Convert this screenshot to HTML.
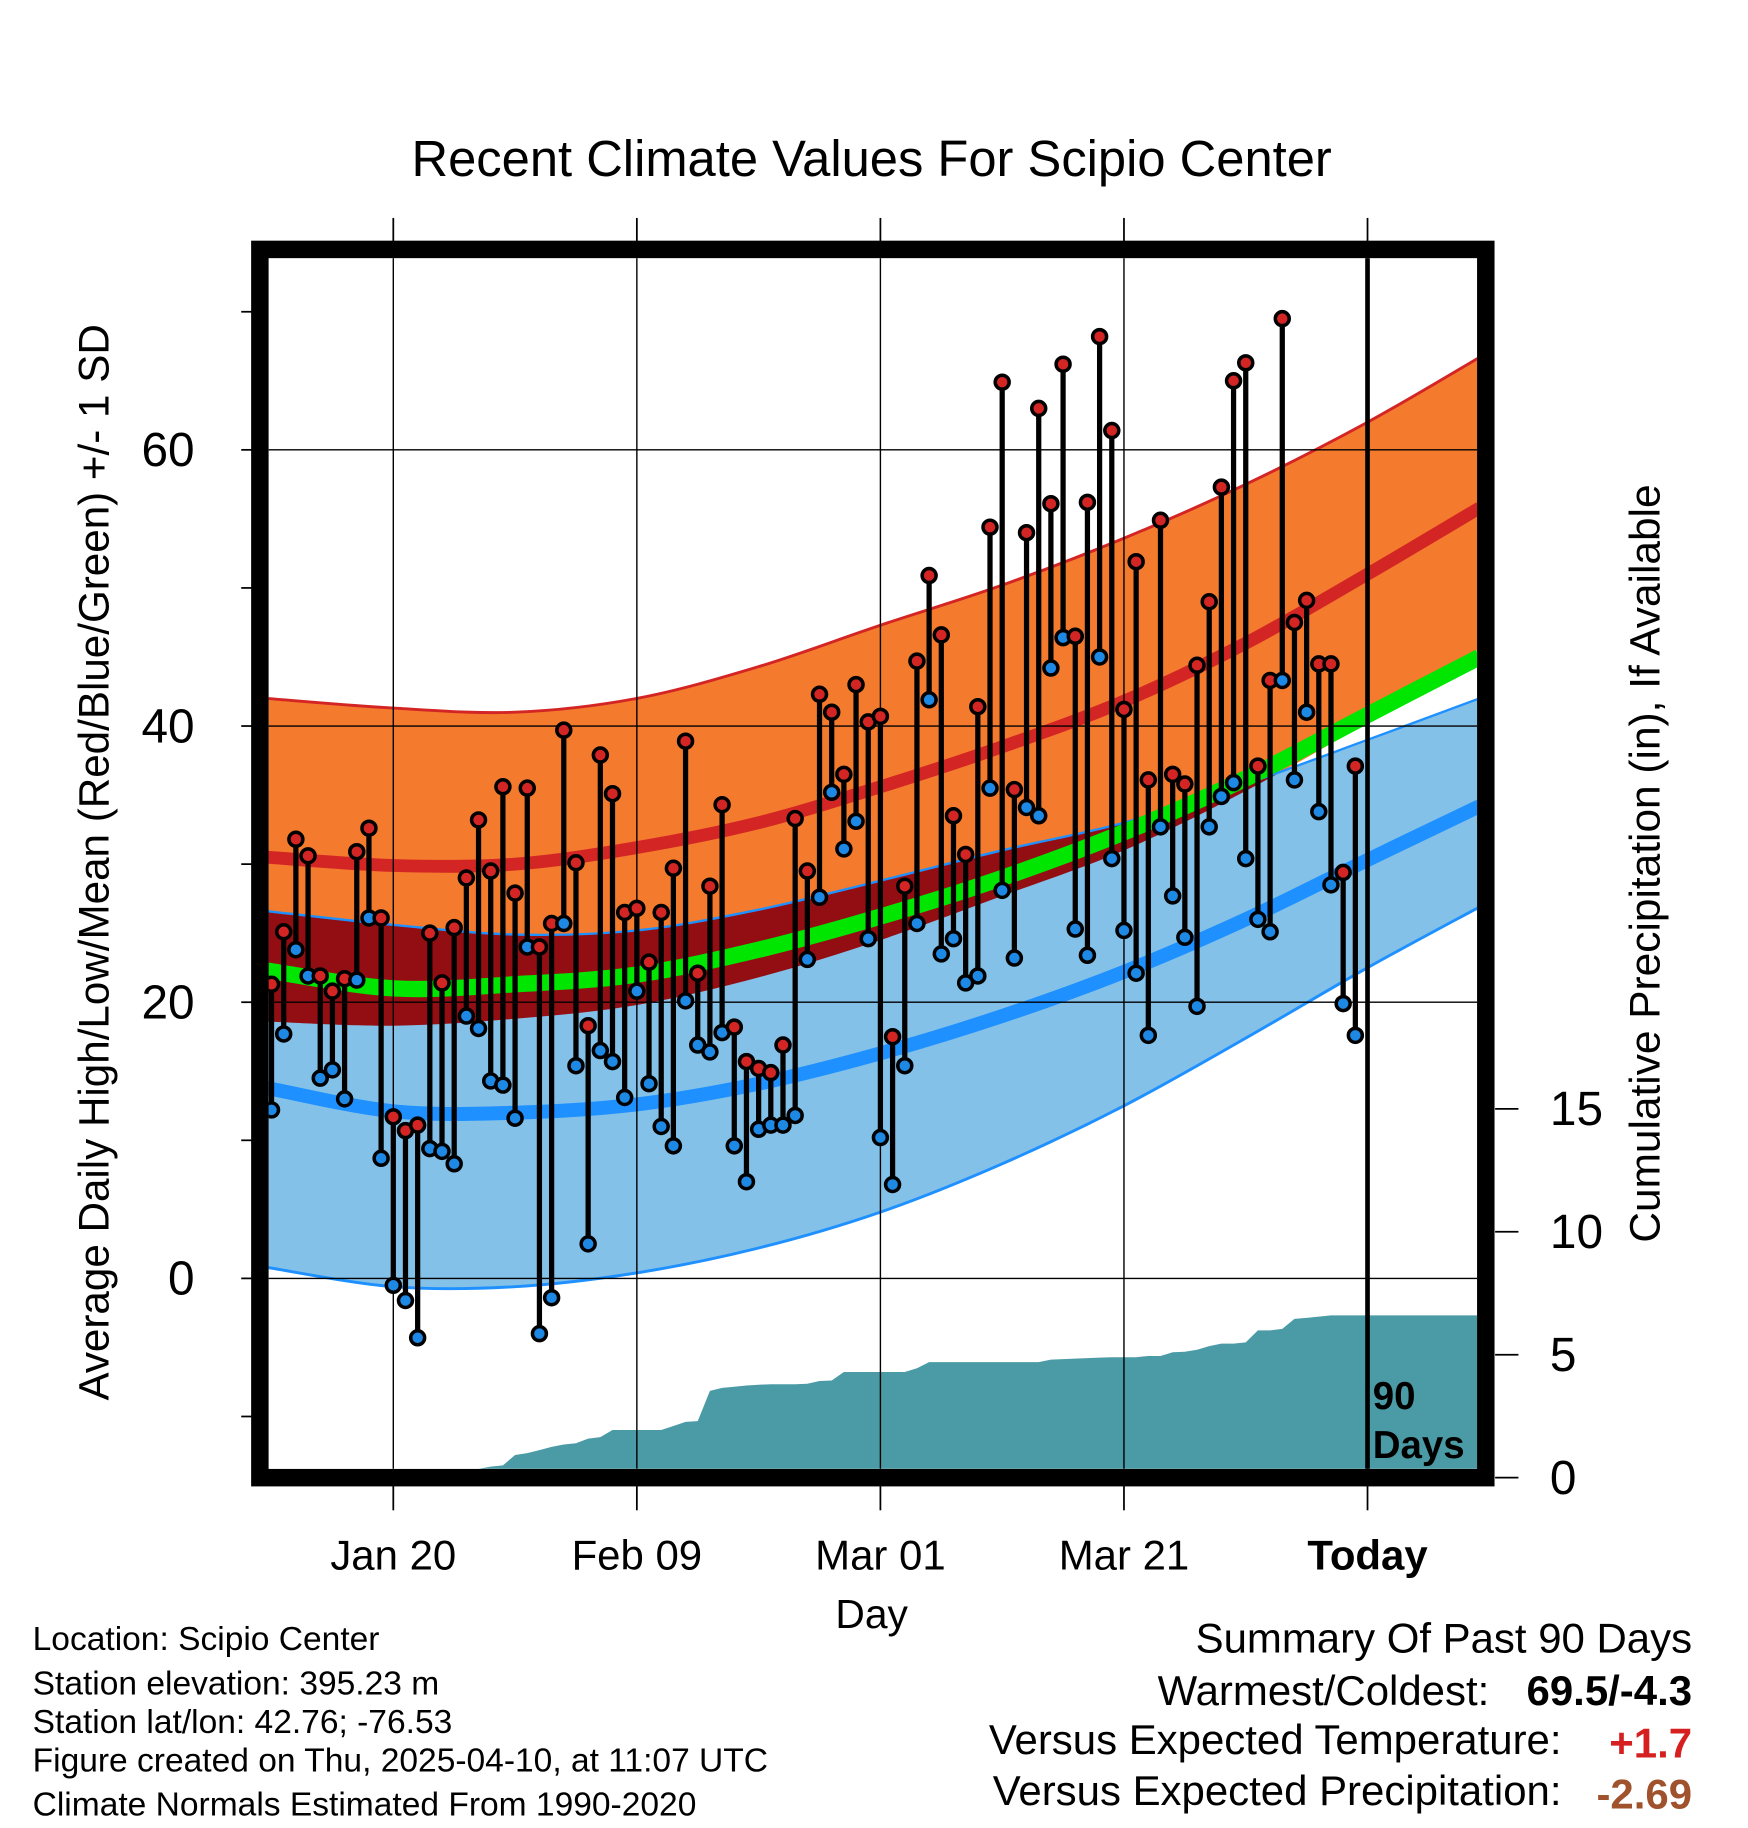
<!DOCTYPE html>
<html><head><meta charset="utf-8"><style>
html,body{margin:0;padding:0;background:#fff;}
svg{display:block;font-family:"Liberation Sans",Arial,sans-serif;}
</style></head><body>
<svg id="chart" width="1748" height="1828" viewBox="0 0 1500 1568.6" xmlns="http://www.w3.org/2000/svg">
<defs><clipPath id="plotclip"><rect x="230.5" y="221.5" width="1037" height="1039"/></clipPath></defs>
<text x="748" y="151" font-size="43.5" text-anchor="middle">Recent Climate Values For Scipio Center</text>
<g id="plot" clip-path="url(#plotclip)"></g>
<g id="axes"></g>
<rect x="223" y="214" width="1052" height="1054" fill="none" stroke="#000" stroke-width="15"/>
<text transform="translate(93,740) rotate(-90)" font-size="36.2" text-anchor="middle">Average Daily High/Low/Mean (Red/Blue/Green) +/- 1 SD</text>
<text transform="translate(1424,741) rotate(-90)" font-size="36.4" text-anchor="middle">Cumulative Precipitation (in), If Available</text>
<text x="748" y="1397" font-size="35" text-anchor="middle">Day</text>
<text x="1178" y="1209" font-size="33" font-weight="bold">90</text>
<text x="1178" y="1251" font-size="33" font-weight="bold">Days</text>
<g font-size="28.8">
<text x="28" y="1416">Location: Scipio Center</text>
<text x="28" y="1454">Station elevation: 395.23 m</text>
<text x="28" y="1487">Station lat/lon: 42.76; -76.53</text>
<text x="28" y="1520">Figure created on Thu, 2025-04-10, at 11:07 UTC</text>
<text x="28" y="1558">Climate Normals Estimated From 1990-2020</text>
</g>
<g font-size="36" text-anchor="end">
<text x="1452" y="1418">Summary Of Past 90 Days</text>
<text x="1278" y="1463">Warmest/Coldest:</text>
<text x="1452" y="1463" font-weight="bold">69.5/-4.3</text>
<text x="1340" y="1505">Versus Expected Temperature:</text>
<text x="1452" y="1508" font-weight="bold" fill="#d62020">+1.7</text>
<text x="1340" y="1549">Versus Expected Precipitation:</text>
<text x="1452" y="1552" font-weight="bold" fill="#a0522d">-2.69</text>
</g>
</svg>
<script>
const normDays = [-0.4,10,20,30,40,50,60,70,80,90,99.2];
const highUp   = [42.0,41.3,41.0,42.0,44.3,47.3,50.2,53.6,57.5,62.0,66.7];
const highMean = [30.5,29.9,30.0,31.2,33.0,35.6,38.5,41.8,46.0,51.0,55.8];
const highDown = [18.6,18.3,18.8,19.8,21.8,24.5,27.7,31.0,35.3,40.3,45.6];
const meanLine = [22.3,21.0,21.3,22.0,23.8,26.2,29.0,32.3,36.2,40.8,45.0];
const lowUp    = [26.6,25.6,24.9,25.2,26.7,28.8,31.0,33.0,35.8,39.0,42.0];
const lowMean  = [13.8,12.1,12.0,12.6,14.1,16.3,19.0,22.2,26.0,30.3,34.2];
const lowDown  = [0.8,-0.6,-0.6,0.4,2.2,4.8,8.3,12.5,17.4,22.5,26.9];
const highs = [21.3,25.1,31.8,30.6,21.9,20.8,21.7,30.9,32.6,26.1,11.7,10.7,11.1,25.0,21.4,25.4,29.0,33.2,29.5,35.6,27.9,35.5,24.0,25.7,39.7,30.1,18.3,37.9,35.1,26.5,26.8,22.9,26.5,29.7,38.9,22.1,28.4,34.3,18.2,15.7,15.2,14.9,16.9,33.3,29.5,42.3,41.0,36.5,43.0,40.3,40.7,17.5,28.4,44.7,50.9,46.6,33.5,30.7,41.4,54.4,64.9,35.4,54.0,63.0,56.1,66.2,46.5,56.2,68.2,61.4,41.2,51.9,36.1,54.9,36.5,35.8,44.4,49.0,57.3,65.0,66.3,37.1,43.3,69.5,47.5,49.1,44.5,44.5,29.4,37.1];
const lows = [12.2,17.7,23.8,21.9,14.5,15.1,13.0,21.6,26.1,8.7,-0.5,-1.6,-4.3,9.4,9.2,8.3,19.0,18.1,14.3,14.0,11.6,24.0,-4.0,-1.4,25.7,15.4,2.5,16.5,15.7,13.1,20.8,14.1,11.0,9.6,20.1,16.9,16.4,17.8,9.6,7.0,10.8,11.1,11.1,11.8,23.1,27.6,35.2,31.1,33.1,24.6,10.2,6.8,15.4,25.7,41.9,23.5,24.6,21.4,21.9,35.5,28.1,23.2,34.1,33.5,44.2,46.4,25.3,23.4,45.0,30.4,25.2,22.1,17.6,32.7,27.7,24.7,19.7,32.7,34.9,35.9,30.4,26.0,25.1,43.3,36.1,41.0,33.8,28.5,19.9,17.6];
const precip = [0,0,0,0,0,0,0,0,0,0,0,0,0,0,0,0,0,0,0.45,0.5,0.92,1.0,1.12,1.25,1.35,1.4,1.59,1.65,1.94,1.94,1.94,1.94,1.94,2.1,2.27,2.3,3.53,3.65,3.7,3.75,3.78,3.8,3.8,3.8,3.82,3.93,3.95,4.3,4.3,4.3,4.3,4.3,4.3,4.45,4.7,4.7,4.7,4.7,4.7,4.7,4.7,4.7,4.7,4.7,4.8,4.82,4.84,4.86,4.88,4.9,4.9,4.9,4.95,4.95,5.1,5.12,5.2,5.35,5.45,5.45,5.5,5.99,5.99,6.05,6.46,6.5,6.55,6.6,6.6,6.6];
const yTicks = [0,20,40,60];
const yMinor = [-10,10,30,50,70];
const pTicks = [0,5,10,15];
const xTickDays = [10,30,50,70,90];
const xTickLabels = ["Jan 20","Feb 09","Mar 01","Mar 21","Today"];

const NS="http://www.w3.org/2000/svg";
const X0=230.5,X1=1267.5,Y0=221.5,Y1=1260.5;
function xs(i){return 337.5+(i-10)*10.45;}
function ys(t){return 1097-11.85*t;}
function yp(p){return 1268-21.1*p;}
function mk(tag,attrs,parent){const e=document.createElementNS(NS,tag);for(const k in attrs)e.setAttribute(k,attrs[k]);parent.appendChild(e);return e;}
function pts(arr){return normDays.map((d,k)=>[xs(d),ys(arr[k])]);}
function smooth(p){let s="M"+p[0][0]+","+p[0][1];for(let k=0;k<p.length-1;k++){const a=p[Math.max(0,k-1)],b=p[k],c=p[k+1],d=p[Math.min(p.length-1,k+2)];s+=" C"+(b[0]+(c[0]-a[0])/6)+","+(b[1]+(c[1]-a[1])/6)+" "+(c[0]-(d[0]-b[0])/6)+","+(c[1]-(d[1]-b[1])/6)+" "+c[0]+","+c[1];}return s;}
function revSmooth(p){const r=p.slice().reverse();return smooth(r).replace(/^M/,"L");}
function band(up,dn){return smooth(pts(up))+" "+revSmooth(pts(dn))+" Z";}
const plot=document.getElementById('plot');
const axes=document.getElementById('axes');
const svg=document.getElementById('chart');

let e;
e=mk('path',{d:band(highUp,highDown),fill:'#f47b2e'},plot);

e=mk('path',{d:band(lowUp,lowDown),fill:'#84c1e8'},plot);

const cp=mk('clipPath',{id:'lowclip'},svg.querySelector('defs'));
mk('path',{d:band(lowUp,lowDown)},cp);
e=mk('path',{d:band(highUp,highDown),fill:'#920e13','clip-path':'url(#lowclip)'},plot);

e=mk('path',{d:smooth(pts(highUp)),fill:'none',stroke:'#d42525','stroke-width':2.5},plot);

e=mk('path',{d:smooth(pts(lowUp)),fill:'none',stroke:'#1e90ff','stroke-width':2},plot);

e=mk('path',{d:smooth(pts(lowDown)),fill:'none',stroke:'#1e90ff','stroke-width':2.5},plot);

e=mk('path',{d:smooth(pts(meanLine)),fill:'none',stroke:'#00e600','stroke-width':14},plot);

e=mk('path',{d:smooth(pts(highMean)),fill:'none',stroke:'#d42525','stroke-width':11},plot);

e=mk('path',{d:smooth(pts(lowMean)),fill:'none',stroke:'#1e90ff','stroke-width':12},plot);


let pd="M"+xs(0)+","+Y1;
precip.forEach((v,i)=>{pd+=" L"+xs(i)+","+Math.min(Y1,yp(v));});
pd+=" L"+X1+","+Math.min(Y1,yp(precip[precip.length-1]))+" L"+X1+","+Y1+" Z";
e=mk('path',{d:pd,fill:'#4a9ba5'},plot);


yTicks.forEach(t=>{e=mk('line',{x1:X0,x2:X1,y1:ys(t),y2:ys(t),stroke:'#000','stroke-width':1.2},plot);
});
xTickDays.forEach(d=>{e=mk('line',{x1:xs(d),x2:xs(d),y1:Y0,y2:Y1,stroke:'#000','stroke-width':1.2},plot);
});

highs.forEach((h,i)=>{
  e=mk('line',{x1:xs(i),x2:xs(i),y1:ys(h),y2:ys(lows[i]),stroke:'#000','stroke-width':4.5},plot);
  
});
highs.forEach((h,i)=>{
  e=mk('circle',{cx:xs(i),cy:ys(lows[i]),r:6,fill:'#1e88e5',stroke:'#000','stroke-width':3},plot);
  
  e=mk('circle',{cx:xs(i),cy:ys(h),r:6,fill:'#d42525',stroke:'#000','stroke-width':3},plot);
  
});
e=mk('line',{x1:xs(90),x2:xs(90),y1:Y0,y2:Y1,stroke:'#000','stroke-width':4},plot);


yTicks.forEach(t=>{
  e=mk('line',{x1:207,x2:216,y1:ys(t),y2:ys(t),stroke:'#000','stroke-width':1.5},axes);
  
  e=mk('text',{x:167,y:ys(t)+14,'font-size':41,'text-anchor':'end'},axes);e.textContent=String(t);
  
});
yMinor.forEach(t=>{
  e=mk('line',{x1:207,x2:216,y1:ys(t),y2:ys(t),stroke:'#000','stroke-width':1.5},axes);
  
});
pTicks.forEach(p=>{
  e=mk('line',{x1:1283,x2:1303,y1:yp(p),y2:yp(p),stroke:'#000','stroke-width':1.5},axes);
  
  e=mk('text',{x:1330,y:yp(p)+14,'font-size':41},axes);e.textContent=String(p);
  
});
xTickDays.forEach((d,k)=>{
  e=mk('line',{x1:xs(d),x2:xs(d),y1:187,y2:214,stroke:'#000','stroke-width':1.5},axes);
  
  e=mk('line',{x1:xs(d),x2:xs(d),y1:1268,y2:1296,stroke:'#000','stroke-width':1.5},axes);
  
  e=mk('text',{x:xs(d),y:1347,'font-size':36,'text-anchor':'middle'},axes);e.textContent=xTickLabels[k];
  if(xTickLabels[k]==='Today')e.setAttribute('font-weight','bold');
  
});
</script>
</body></html>
